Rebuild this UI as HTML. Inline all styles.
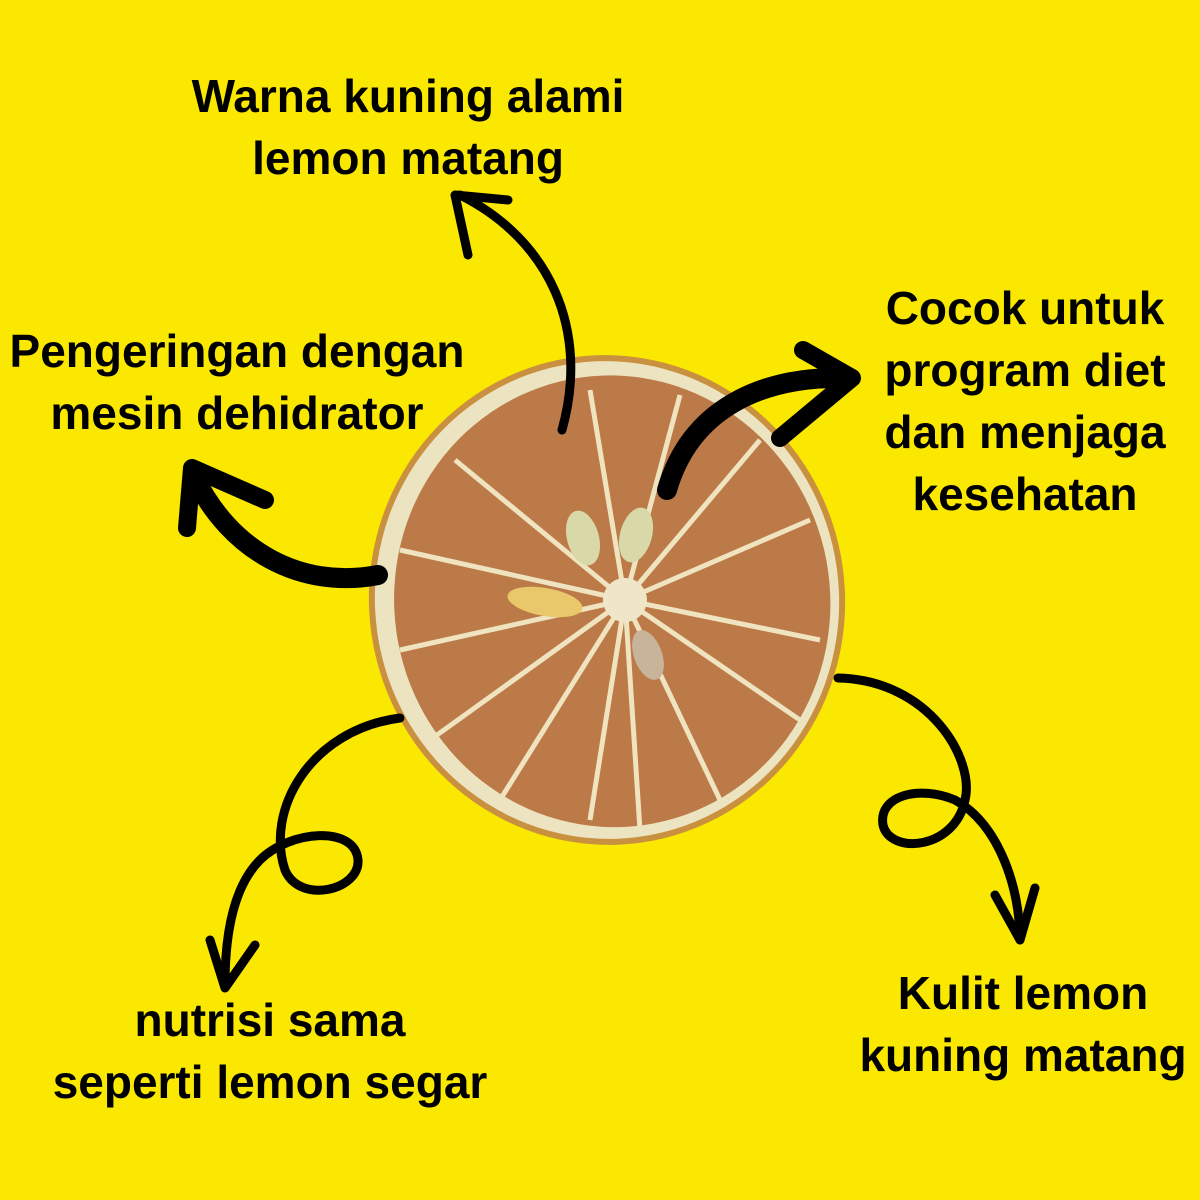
<!DOCTYPE html>
<html><head><meta charset="utf-8"><style>
html,body{margin:0;padding:0}
body{width:1200px;height:1200px;background:#fae800;position:relative;overflow:hidden;font-family:"Liberation Sans",sans-serif}
.t{position:absolute;font-weight:bold;font-size:46px;line-height:62px;color:#000;text-align:center;white-space:nowrap;transform:translateX(-50%)}
svg{position:absolute;left:0;top:0}
</style></head><body>
<svg width="1200" height="1200" viewBox="0 0 1200 1200">
<g transform="rotate(-8 607 600)">
<ellipse cx="607" cy="600" rx="238" ry="245" fill="#c99040"/>
<ellipse cx="607" cy="600" rx="232" ry="239" fill="#ece4c0"/>
<ellipse cx="612" cy="602" rx="218" ry="226" fill="#bb7a48"/>
</g>
<g stroke="#efe3c0" stroke-width="5" fill="none">
<line x1="625" y1="600" x2="590" y2="390"/>
<line x1="625" y1="600" x2="455" y2="460"/>
<line x1="625" y1="600" x2="400" y2="550"/>
<line x1="625" y1="600" x2="400" y2="650"/>
<line x1="625" y1="600" x2="430" y2="740"/>
<line x1="625" y1="600" x2="500" y2="800"/>
<line x1="625" y1="600" x2="590" y2="820"/>
<line x1="625" y1="600" x2="640" y2="830"/>
<line x1="625" y1="600" x2="720" y2="800"/>
<line x1="625" y1="600" x2="800" y2="720"/>
<line x1="625" y1="600" x2="820" y2="640"/>
<line x1="625" y1="600" x2="810" y2="520"/>
<line x1="625" y1="600" x2="760" y2="440"/>
<line x1="625" y1="600" x2="680" y2="395"/>
</g>
<circle cx="625" cy="600" r="22" fill="#efe6c8"/>
<ellipse cx="583" cy="538" rx="16" ry="28" fill="#d8d8a8" transform="rotate(-15 583 538)"/>
<ellipse cx="636" cy="535" rx="16" ry="28" fill="#d8d8a8" transform="rotate(15 636 535)"/>
<ellipse cx="648" cy="655" rx="14" ry="26" fill="#c8b49a" transform="rotate(-20 648 655)"/>
<ellipse cx="545" cy="602" rx="38" ry="14" fill="#e8c86a" transform="rotate(10 545 602)"/>
<g stroke="#000" fill="none" stroke-linecap="round" stroke-linejoin="round">
<path d="M562 430 C590 330 550 240 460 195" stroke-width="9"/>
<path d="M468 255 L455 195 L508 200" stroke-width="9"/>
<path d="M378 575 C300 590 230 550 195 478" stroke-width="20"/>
<path d="M187 528 L192 468 L265 500" stroke-width="18"/>
<path d="M667 490 C690 410 760 375 850 378" stroke-width="20"/>
<path d="M803 350 L852 378 L780 438" stroke-width="18"/>
<path d="M400 718 C310 730 265 810 285 870 C300 905 360 890 358 860 C355 825 290 830 260 860 C235 885 225 930 225 985" stroke-width="9"/>
<path d="M210 940 L225 988 L255 945" stroke-width="9"/>
<path d="M838 678 C930 680 975 760 965 800 C955 850 890 855 883 825 C878 795 920 785 955 800 C1000 825 1020 890 1020 940" stroke-width="9"/>
<path d="M995 895 L1020 940 L1035 888" stroke-width="9"/>
</g>
</svg>
<div class="t" style="left:408px;top:65px">Warna kuning alami<br>lemon matang</div>
<div class="t" style="left:237px;top:320px">Pengeringan dengan<br>mesin dehidrator</div>
<div class="t" style="left:1025px;top:277px">Cocok untuk<br>program diet<br>dan menjaga<br>kesehatan</div>
<div class="t" style="left:1023px;top:962px">Kulit lemon<br>kuning matang</div>
<div class="t" style="left:270px;top:989px">nutrisi sama<br>seperti lemon segar</div>
</body></html>
